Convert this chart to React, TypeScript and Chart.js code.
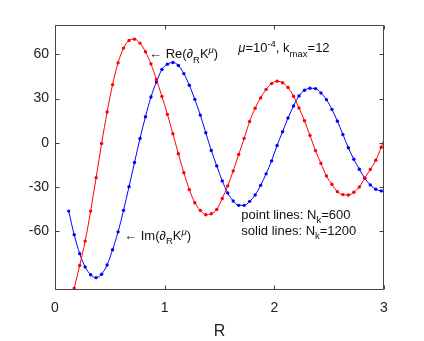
import React, { useEffect, useRef } from "react";
import { Chart, registerables } from "chart.js";

Chart.register(...registerables);

const R = [
  0.125, 0.175, 0.225, 0.275, 0.325, 0.375, 0.425, 0.475, 0.525, 0.575,
  0.625, 0.675, 0.725, 0.775, 0.825, 0.875, 0.925, 0.975, 1.025, 1.075,
  1.125, 1.175, 1.225, 1.275, 1.325, 1.375, 1.425, 1.475, 1.525, 1.575,
  1.625, 1.675, 1.725, 1.775, 1.825, 1.875, 1.925, 1.975, 2.025, 2.075,
  2.125, 2.175, 2.225, 2.275, 2.325, 2.375, 2.425, 2.475, 2.525, 2.575,
  2.625, 2.675, 2.725, 2.775, 2.825, 2.875, 2.925, 2.975, 3.0,
];

const reValues = [
  -113, -98.7, -83.4, -66.8, -46.4, -23.7, -0.5, 20.9, 39.5, 54.3,
  64.3, 69.5, 70.4, 67.7, 61.8, 53.6, 43, 31.5, 19.3, 6.1,
  -7.5, -20.3, -31.8, -40.7, -45.9, -48.9, -48.2, -45.3, -37.8, -29.3,
  -19.1, -8, 3, 14.5, 23.5, 30.5, 36.3, 40.2, 41.8, 40.8,
  37.5, 31.6, 23.6, 15, 5, -5.3, -14, -22.5, -28.2, -33.2,
  -35.2, -35.5, -33.6, -30, -24, -18.1, -11.9, -3, 2.3,
];

const imValues = [
  -46.4, -62.5, -75.3, -84.3, -89.6, -91.6, -89.3, -83, -72.7, -60.5,
  -45.9, -29.8, -13.4, 2.9, 17.7, 31.1, 41.3, 49.8, 53.4, 54.5,
  52.5, 47, 39.1, 29.5, 18.8, 6.8, -5.2, -15.7, -25.9, -34.1,
  -39.5, -42.5, -42.5, -39.8, -35.5, -28.9, -21.1, -12.3, -1.8, 7.5,
  16.8, 25, 31.8, 35.7, 37, 36.8, 33.8, 29.3, 22.7, 14.7,
  5.7, -3.4, -11.2, -18, -24.1, -28.6, -31.6, -32.7, -33,
];

const xTicks = [0, 1, 2, 3];
const yTicks = [-60, -30, 0, 30, 60];

const FONT = "'Liberation Sans', Arial, Helvetica, sans-serif";

type Seg = [string, "n" | "i" | "sub" | "sup" | "supi"];

const labels: { x: number; y: number; segs: Seg[] }[] = [
  { x: 0.858, y: 57.5, segs: [["\u2190 Re(", "n"], ["\u2202", "i"], ["R", "sub"], ["K", "n"], ["\u03bc", "supi"], [")", "n"]] },
  { x: 1.671, y: 61.6, segs: [["\u03bc", "i"], ["=10", "n"], ["-4", "sup"], [", k", "n"], ["max", "sub"], ["=12", "n"]] },
  { x: 0.63, y: -65.9, segs: [["\u2190 Im(", "n"], ["\u2202", "i"], ["R", "sub"], ["K", "n"], ["\u03bc", "supi"], [")", "n"]] },
  { x: 1.699, y: -51.6, segs: [["point lines: N", "n"], ["k", "sub"], ["=600", "n"]] },
  { x: 1.699, y: -62.5, segs: [["solid lines: N", "n"], ["k", "sub"], ["=1200", "n"]] },
];

function drawRich(ctx: CanvasRenderingContext2D, x: number, y: number, segs: Seg[]) {
  let cx = x;
  ctx.textBaseline = "alphabetic";
  ctx.textAlign = "left";
  ctx.fillStyle = "#111";
  for (const [t, k] of segs) {
    let size = 13;
    let dy = 0;
    let style = "";
    if (k === "i") style = "italic ";
    if (k === "sub") { size = 9.5; dy = 4.5; }
    if (k === "sup") { size = 9.5; dy = -5; }
    if (k === "supi") { size = 9.5; dy = -5; style = "italic "; }
    ctx.font = `${style}${size}px ${FONT}`;
    ctx.fillText(t, cx, y + dy);
    cx += ctx.measureText(t).width;
  }
}

const framePlugin = {
  id: "frame",
  afterDraw(chart: any) {
    const { ctx, chartArea: a, scales } = chart;
    const xs = scales.x;
    const ys = scales.y;
    ctx.save();
    ctx.strokeStyle = "#444";
    ctx.lineWidth = 1;
    const l = Math.round(a.left) + 0.5;
    const r = Math.round(a.right) - 0.5;
    const t = Math.round(a.top) + 0.5;
    const b = Math.round(a.bottom) - 0.5;
    ctx.beginPath();
    ctx.rect(l, t, r - l, b - t);
    ctx.stroke();
    const len = 4;
    ctx.beginPath();
    for (const v of xTicks) {
      const px = Math.round(xs.getPixelForValue(v)) + 0.5;
      ctx.moveTo(px, b);
      ctx.lineTo(px, b - len);
      ctx.moveTo(px, t);
      ctx.lineTo(px, t + len);
    }
    for (const v of yTicks) {
      const py = Math.round(ys.getPixelForValue(v)) + 0.5;
      ctx.moveTo(l, py);
      ctx.lineTo(l + len, py);
      ctx.moveTo(r, py);
      ctx.lineTo(r - len, py);
    }
    ctx.stroke();
    for (const lab of labels) {
      drawRich(ctx, xs.getPixelForValue(lab.x), ys.getPixelForValue(lab.y), lab.segs);
    }
    ctx.restore();
  },
};

export default function App() {
  const ref = useRef<HTMLCanvasElement | null>(null);
  useEffect(() => {
    document.body.style.margin = "0";
    const canvas = ref.current;
    if (!canvas) return;
    const mk = (vals: number[]) => R.map((x, i) => ({ x, y: vals[i] }));
    const radius = (c: any) => (c.raw && c.raw.x >= 3 ? 0 : 1.7);
    const chart = new Chart(canvas, {
      type: "line",
      data: {
        datasets: [
          {
            data: mk(reValues),
            borderColor: "#ff0000",
            backgroundColor: "#ff0000",
            borderWidth: 1,
            pointRadius: radius,
            pointBorderWidth: 0,
            pointBackgroundColor: "#ff0000",
            cubicInterpolationMode: "monotone",
          },
          {
            data: mk(imValues),
            borderColor: "#0000ff",
            backgroundColor: "#0000ff",
            borderWidth: 1,
            pointRadius: radius,
            pointBorderWidth: 0,
            pointBackgroundColor: "#0000ff",
            cubicInterpolationMode: "monotone",
          },
        ],
      },
      options: {
        animation: false,
        responsive: false,
        devicePixelRatio: 1,
        layout: { padding: { top: 25, right: 40, left: 0, bottom: 0 } },
        plugins: { legend: { display: false }, tooltip: { enabled: false } },
        scales: {
          x: {
            type: "linear",
            min: 0,
            max: 3,
            afterBuildTicks: (s: any) => { s.ticks = xTicks.map((v) => ({ value: v })); },
            afterFit: (s: any) => { s.height = 51; },
            grid: { display: false, drawTicks: false },
            border: { display: false },
            ticks: { padding: 10, color: "#222", font: { family: FONT, size: 14 }, callback: (v: any) => String(v) },
            title: { display: true, text: "R", color: "#222", font: { family: FONT, size: 16 }, padding: { top: 4, bottom: 0 } },
          },
          y: {
            type: "linear",
            min: -100,
            max: 80,
            afterBuildTicks: (s: any) => { s.ticks = yTicks.map((v) => ({ value: v })); },
            afterFit: (s: any) => { s.width = 55; },
            grid: { display: false, drawTicks: false },
            border: { display: false },
            ticks: { padding: 6, color: "#222", font: { family: FONT, size: 14 }, callback: (v: any) => String(v) },
          },
        },
      },
      plugins: [framePlugin],
    } as any);
    return () => chart.destroy();
  }, []);
  return (
    <div style={{ width: 424, height: 341 }}>
      <canvas ref={ref} width={424} height={341} style={{ display: "block" }} />
    </div>
  );
}
